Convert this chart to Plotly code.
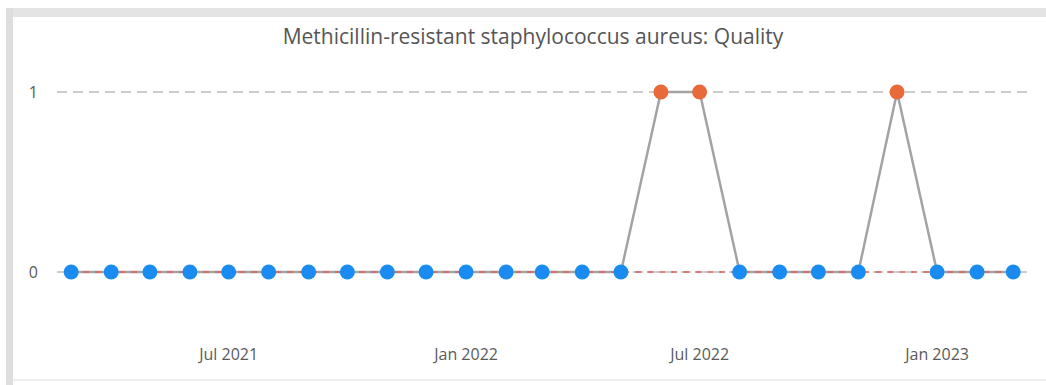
import plotly.graph_objects as go

# Monthly MRSA quality indicator, Mar 2021 - Mar 2023
months = ["2021-03-01", "2021-04-01", "2021-05-01", "2021-06-01", "2021-07-01",
          "2021-08-01", "2021-09-01", "2021-10-01", "2021-11-01", "2021-12-01",
          "2022-01-01", "2022-02-01", "2022-03-01", "2022-04-01", "2022-05-01",
          "2022-06-01", "2022-07-01", "2022-08-01", "2022-09-01", "2022-10-01",
          "2022-11-01", "2022-12-01", "2023-01-01", "2023-02-01", "2023-03-01"]
quality = [0, 0, 0, 0, 0, 0, 0, 0, 0, 0, 0, 0, 0, 0, 0,
           1, 1, 0, 0, 0, 0, 1, 0, 0, 0]
mean_value = 0
upper_value = 1

tick_vals = ["2021-07-01", "2022-01-01", "2022-07-01", "2023-01-01"]
tick_text = ["Jul 2021", "Jan 2022", "Jul 2022", "Jan 2023"]

BLUE = "#1a8bf0"
ORANGE = "#e8693a"
point_colors = [ORANGE if v >= upper_value else BLUE for v in quality]

W, H = 1046, 385
L, R, T, B = 57, 1030, 60, 330  # plot area in pixels


def px(x):
    return (x - L) / (R - L)


def py(y):
    return (B - y) / (B - T)


fig = go.Figure()

# connecting line
fig.add_trace(go.Scatter(
    x=months, y=quality, mode="lines",
    line=dict(color="#a3a3a3", width=2.5),
    hoverinfo="skip", showlegend=False,
))
# mean line, drawn over the connector but under the points
fig.add_trace(go.Scatter(
    x=months, y=[mean_value] * len(months), mode="lines",
    line=dict(color="#d9605c", width=1.5, dash="6px,6px"),
    hoverinfo="skip", showlegend=False,
))
fig.add_trace(go.Scatter(
    x=months, y=quality, mode="markers",
    marker=dict(color=point_colors, size=15, line=dict(width=0)),
    showlegend=False,
))

shapes = [
    # card frame
    dict(type="rect", xref="paper", yref="paper", x0=px(6), x1=px(1046),
         y0=py(17), y1=py(8), fillcolor="#e4e4e4", line=dict(width=0), layer="below"),
    dict(type="rect", xref="paper", yref="paper", x0=px(6), x1=px(13),
         y0=py(385), y1=py(8), fillcolor="#dedede", line=dict(width=0), layer="below"),
    dict(type="rect", xref="paper", yref="paper", x0=px(13), x1=px(1046),
         y0=py(381), y1=py(379), fillcolor="#efefef", line=dict(width=0), layer="below"),
]

fig.update_layout(
    width=W, height=H,
    margin=dict(l=L, r=W - R, t=T, b=H - B, pad=0),
    paper_bgcolor="white", plot_bgcolor="white",
    font=dict(family="Open Sans, sans-serif", color="#5a5a5a"),
    title=dict(text="Methicillin-resistant staphylococcus aureus: Quality",
               x=533 / W, xref="container", xanchor="center",
               y=1 - 37 / H, yref="container", yanchor="middle",
               font=dict(size=21, color="#555555")),
    shapes=shapes,
    xaxis=dict(
        type="date", range=["2021-02-18", "2023-03-14"],
        tickvals=tick_vals, ticktext=tick_text,
        showgrid=False, zeroline=False, showline=False,
        tickfont=dict(size=16, color="#5a5a5a"),
        ticklabelstandoff=13,
    ),
    yaxis=dict(
        range=[-(B - 272) / 180, 1 + (92 - T) / 180],
        tickvals=[0, 1], ticktext=["0", "1"],
        showgrid=True, gridcolor="#cccccc", gridwidth=2, griddash="10px,6px",
        zeroline=False, showline=False,
        tickfont=dict(size=16, color="#5a5a5a"),
        ticklabelstandoff=18,
    ),
)

fig.write_html("out.html")
